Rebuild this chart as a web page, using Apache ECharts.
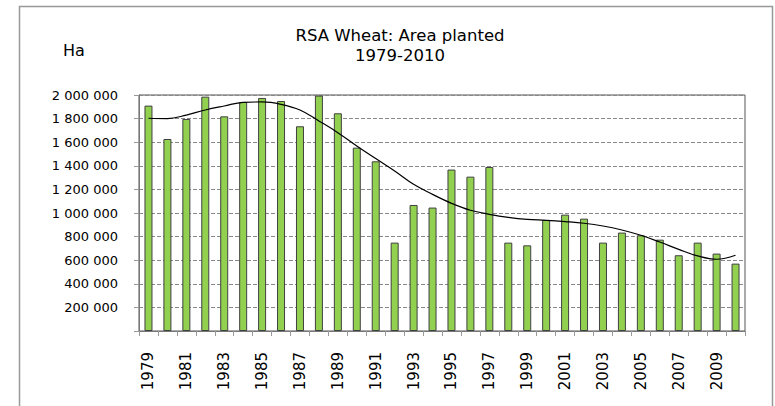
<!doctype html>
<html>
<head>
<meta charset="utf-8">
<title>RSA Wheat: Area planted</title>
<script src="https://cdn.jsdelivr.net/npm/echarts@6/dist/echarts.min.js"></script>
<style>
  html, body { margin: 0; padding: 0; background: #fff; }
  #main { width: 775px; height: 406px; }
</style>
</head>
<body>
<div id="main"></div>
<script>
// years on the x axis
var years = [];
for (var y = 1979; y <= 2010; y++) years.push(String(y));

// area planted, hectares
var areaPlanted = [1910000, 1627000, 1797000, 1986000, 1819000, 1941000, 1975000, 1949000,
  1735000, 1995000, 1845000, 1554000, 1438000, 749000, 1068000, 1046000,
  1368000, 1308000, 1390000, 749000, 726000, 941000, 986000, 952000,
  749000, 834000, 811000, 774000, 642000, 749000, 656000, 571000];

// smooth trend line drawn through the bars
var trend = [1803000, 1800000, 1830000, 1873000, 1907000, 1938000, 1941000, 1921000,
  1873000, 1780000, 1681000, 1568000, 1461000, 1356000, 1243000, 1158000,
  1082000, 1023000, 989000, 963000, 946000, 938000, 927000, 913000,
  890000, 856000, 811000, 754000, 692000, 636000, 608000, 642000];

var yTicks = { min: 0, max: 2000000, step: 200000 };

function spaced(v) {
  if (v === 0) return '';
  return String(v).replace(/\B(?=(\d{3})+(?!\d))/g, ' ');
}

// svg renderer: rotated year labels come out flat on the canvas one here
var chart = echarts.init(document.getElementById('main'), null, { renderer: 'svg' });
chart.setOption({
  animation: false,
  graphic: [
    { type: 'rect', shape: { x: 19.5, y: 6.5, width: 753, height: 410 },
      style: { fill: 'none', stroke: '#999', lineWidth: 1.5 } },
    { type: 'text', left: 63, top: 42,
      style: { text: 'Ha', font: '16px DejaVu Sans', fill: '#000' } }
  ],
  title: {
    text: 'RSA Wheat: Area planted\n1979-2010',
    left: 395, textAlign: 'center', top: 20,
    textStyle: { fontSize: 16.5, fontWeight: 'normal', color: '#000', lineHeight: 20, fontFamily: 'DejaVu Sans' }
  },
  grid: {
    left: 139, right: 30, top: 95, bottom: 75,
    show: true, borderColor: '#555', borderWidth: 1
  },
  xAxis: {
    type: 'category',
    data: years,
    axisLine: { lineStyle: { color: '#777', width: 1 } },
    axisTick: { show: true, interval: 0, length: 5, lineStyle: { color: '#999' } },
    axisLabel: { interval: 1, rotate: 90, margin: 21, color: '#000', fontSize: 15, fontFamily: 'DejaVu Sans' }
  },
  yAxis: {
    type: 'value',
    min: yTicks.min, max: yTicks.max, interval: yTicks.step,
    axisLine: { show: true, lineStyle: { color: '#777' } },
    axisTick: { show: true, length: 5, lineStyle: { color: '#999' } },
    axisLabel: { formatter: spaced, color: '#000', fontSize: 13, margin: 21, fontFamily: 'DejaVu Sans' },
    splitLine: { lineStyle: { color: '#888', type: [4, 2], width: 1 } }
  },
  series: [{
    type: 'bar',
    data: areaPlanted,
    barWidth: 8,
    itemStyle: { color: '#92d050', borderColor: '#404040', borderWidth: 1 }
  }, {
    type: 'line',
    data: trend,
    smooth: 0.4,
    symbol: 'none',
    lineStyle: { color: '#000', width: 1.2 }
  }]
});
</script>
</body>
</html>
